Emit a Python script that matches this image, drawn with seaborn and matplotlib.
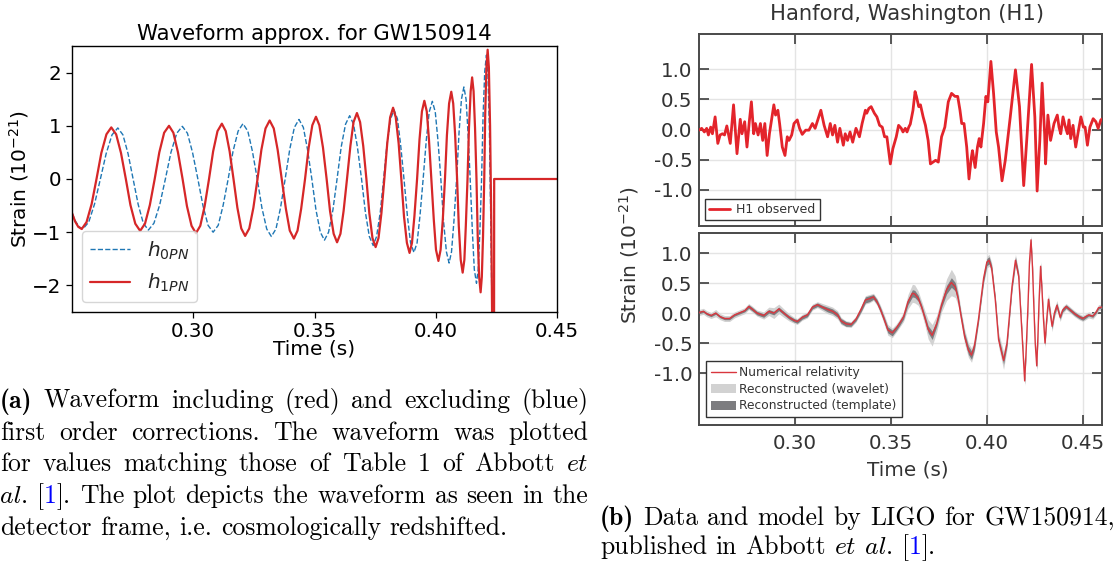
import matplotlib
matplotlib.use("Agg")
import matplotlib.pyplot as plt
import seaborn as sns
from matplotlib.lines import Line2D
from matplotlib.patches import Patch
from matplotlib.ticker import FixedLocator, FormatStrFormatter

# ---------------- Panel (a): waveform approximation ----------------
t_1pn = [0.2500, 0.2513, 0.2526, 0.2540,
         0.2560, 0.2581, 0.2601, 0.2621, 0.2642, 0.2662,
         0.2682, 0.2702, 0.2722, 0.2741, 0.2761, 0.2781,
         0.2801, 0.2821, 0.2841, 0.2860, 0.2880, 0.2900,
         0.2918, 0.2937, 0.2956, 0.2974, 0.2993, 0.3011,
         0.3029, 0.3047, 0.3065, 0.3082, 0.3100, 0.3118,
         0.3134, 0.3150, 0.3166, 0.3182, 0.3198, 0.3214,
         0.3231, 0.3248, 0.3265, 0.3281, 0.3298, 0.3315,
         0.3332, 0.3348, 0.3365, 0.3382, 0.3398, 0.3415,
         0.3430, 0.3445, 0.3461, 0.3476, 0.3491, 0.3506,
         0.3520, 0.3535, 0.3550, 0.3564, 0.3579, 0.3593,
         0.3607, 0.3620, 0.3634, 0.3648, 0.3661, 0.3675,
         0.3688, 0.3701, 0.3714, 0.3726, 0.3739, 0.3752,
         0.3764, 0.3776, 0.3788, 0.3800, 0.3812, 0.3824,
         0.3835, 0.3847, 0.3858, 0.3869, 0.3881, 0.3892,
         0.3902, 0.3912, 0.3923, 0.3933, 0.3943, 0.3953,
         0.3963, 0.3972, 0.3982, 0.3992, 0.4001, 0.4011,
         0.4020, 0.4029, 0.4038, 0.4046, 0.4055, 0.4064,
         0.4072, 0.4080, 0.4088, 0.4095, 0.4103, 0.4111,
         0.4118, 0.4124, 0.4131, 0.4137, 0.4144, 0.4150,
         0.4156, 0.4162, 0.4168, 0.4173, 0.4179, 0.4185,
         0.4190, 0.4195, 0.4200, 0.4204, 0.4209, 0.4214,
         0.4219, 0.4224, 0.4229, 0.4233, 0.4237, 0.4240, 0.4241, 0.4500]
h_1pn = [-0.64, -0.80, -0.90, -0.94,
         -0.81, -0.47, 0.00, 0.49, 0.84, 0.97,
         0.84, 0.49, 0.00, -0.49, -0.84, -0.975,
         -0.84, -0.49, 0.00, 0.50, 0.87, 1.00,
         0.87, 0.50, 0.00, -0.51, -0.88, -1.02,
         -0.88, -0.51, 0.00, 0.52, 0.90, 1.04,
         0.90, 0.52, 0.00, -0.54, -0.93, -1.07,
         -0.93, -0.54, 0.00, 0.55, 0.95, 1.10,
         0.95, 0.55, 0.00, -0.56, -0.97, -1.12,
         -0.97, -0.56, 0.00, 0.59, 1.01, 1.17,
         1.01, 0.59, 0.00, -0.60, -1.03, -1.19,
         -1.03, -0.60, 0.00, 0.62, 1.07, 1.24,
         1.07, 0.62, 0.00, -0.64, -1.11, -1.28,
         -1.11, -0.64, 0.00, 0.67, 1.16, 1.34,
         1.16, 0.67, 0.00, -0.70, -1.20, -1.39,
         -1.20, -0.70, 0.00, 0.74, 1.27, 1.47,
         1.27, 0.74, 0.00, -0.77, -1.33, -1.54,
         -1.33, -0.77, 0.00, 0.82, 1.42, 1.64,
         1.42, 0.82, 0.00, -0.88, -1.52, -1.76,
         -1.52, -0.88, 0.00, 0.96, 1.65, 1.91,
         1.65, 0.96, 0.00, -1.07, -1.84, -2.13,
         -1.84, -1.07, 0.00, 1.22, 2.10, 2.43,
         2.10, 1.00, -0.80, -2.80, -5.00, -5.00, 0.00, 0.00]

t_0pn = [0.2500, 0.2515, 0.2530, 0.2545,
         0.2569, 0.2593, 0.2617, 0.2641, 0.2665, 0.2689,
         0.2710, 0.2731, 0.2752, 0.2773, 0.2794, 0.2815,
         0.2838, 0.2862, 0.2885, 0.2908, 0.2932, 0.2955,
         0.2976, 0.2997, 0.3019, 0.3040, 0.3061, 0.3082,
         0.3103, 0.3123, 0.3144, 0.3164, 0.3185, 0.3205,
         0.3225, 0.3244, 0.3264, 0.3283, 0.3303, 0.3322,
         0.3341, 0.3360, 0.3379, 0.3398, 0.3417, 0.3436,
         0.3454, 0.3471, 0.3489, 0.3506, 0.3524, 0.3541,
         0.3558, 0.3576, 0.3593, 0.3610, 0.3628, 0.3645,
         0.3661, 0.3677, 0.3694, 0.3710, 0.3726, 0.3742,
         0.3756, 0.3771, 0.3785, 0.3799, 0.3814, 0.3828,
         0.3842, 0.3855, 0.3869, 0.3883, 0.3896, 0.3910,
         0.3923, 0.3935, 0.3948, 0.3961, 0.3973, 0.3986,
         0.3998, 0.4009, 0.4021, 0.4032, 0.4044, 0.4055,
         0.4065, 0.4075, 0.4086, 0.4096, 0.4106, 0.4116,
         0.4125, 0.4133, 0.4142, 0.4151, 0.4159, 0.4168,
         0.4175, 0.4182, 0.4189, 0.4195, 0.4202, 0.4209,
         0.4215, 0.4221, 0.4227, 0.4233, 0.4237, 0.4240, 0.4241, 0.4500]
h_0pn = [-0.64, -0.80, -0.90, -0.94,
         -0.81, -0.47, 0.00, 0.48, 0.83, 0.96,
         0.83, 0.48, 0.00, -0.48, -0.83, -0.96,
         -0.83, -0.48, 0.00, 0.50, 0.86, 0.99,
         0.86, 0.50, 0.00, -0.50, -0.87, -1.00,
         -0.87, -0.50, 0.00, 0.52, 0.90, 1.04,
         0.90, 0.52, 0.00, -0.54, -0.94, -1.08,
         -0.94, -0.54, 0.00, 0.56, 0.97, 1.12,
         0.97, 0.56, 0.00, -0.58, -1.00, -1.15,
         -1.00, -0.58, 0.00, 0.60, 1.03, 1.19,
         1.03, 0.60, 0.00, -0.63, -1.08, -1.25,
         -1.08, -0.63, 0.00, 0.65, 1.13, 1.30,
         1.13, 0.65, 0.00, -0.69, -1.20, -1.38,
         -1.20, -0.69, 0.00, 0.73, 1.26, 1.46,
         1.26, 0.73, 0.00, -0.79, -1.37, -1.58,
         -1.37, -0.79, 0.00, 0.87, 1.50, 1.73,
         1.50, 0.87, 0.00, -0.98, -1.70, -1.96,
         -1.70, -0.98, 0.00, 1.17, 2.02, 2.33,
         2.00, 1.00, -0.80, -2.80, -5.00, -5.00, 0.00, 0.00]

a_xticks = [0.30, 0.35, 0.40, 0.45]
a_yticks = [-2, -1, 0, 1, 2]
a_labels = ["$h_{0PN}$", "$h_{1PN}$"]

# ---------------- Panel (b): LIGO H1 data ----------------
t_obs = [0.2500, 0.2514, 0.2528, 0.2540, 0.2549, 0.2561, 0.2570, 0.2584, 0.2598, 0.2610,
         0.2622, 0.2633, 0.2645, 0.2663, 0.2680, 0.2698, 0.2715, 0.2724, 0.2738, 0.2750,
         0.2762, 0.2773, 0.2785, 0.2794, 0.2808, 0.2820, 0.2832, 0.2843, 0.2855, 0.2867,
         0.2890, 0.2899, 0.2911, 0.2920, 0.2934, 0.2948, 0.2960, 0.2969, 0.2983, 0.2995,
         0.3012, 0.3024, 0.3038, 0.3056, 0.3073, 0.3091, 0.3105, 0.3121, 0.3135, 0.3152,
         0.3170, 0.3184, 0.3196, 0.3208, 0.3222, 0.3234, 0.3252, 0.3262, 0.3274, 0.3287,
         0.3301, 0.3318, 0.3336, 0.3350, 0.3367, 0.3374, 0.3385, 0.3397, 0.3414, 0.3427,
         0.3441, 0.3455, 0.3467, 0.3479, 0.3497, 0.3510, 0.3528, 0.3540, 0.3554, 0.3563,
         0.3575, 0.3584, 0.3593, 0.3601, 0.3615, 0.3626, 0.3633, 0.3645, 0.3654, 0.3668,
         0.3680, 0.3694, 0.3706, 0.3720, 0.3733, 0.3747, 0.3764, 0.3781, 0.3799, 0.3816,
         0.3834, 0.3848, 0.3860, 0.3869, 0.3881, 0.3895, 0.3907, 0.3918, 0.3925, 0.3939,
         0.3951, 0.3960, 0.3969, 0.3983, 0.3995, 0.4005, 0.4021, 0.4035, 0.4049, 0.4061,
         0.4079, 0.4096, 0.4122, 0.4149, 0.4170, 0.4192, 0.4210, 0.4233, 0.4250, 0.4262,
         0.4276, 0.4288, 0.4301, 0.4306, 0.4318, 0.4332, 0.4350, 0.4367, 0.4376, 0.4385,
         0.4397, 0.4407, 0.4420, 0.4428, 0.4437, 0.4449, 0.4463, 0.4476, 0.4490, 0.4503,
         0.4512, 0.4524, 0.4537, 0.4554, 0.4568, 0.4580, 0.4594, 0.4603]
h_obs = [-0.01, 0.02, -0.04, 0.02, -0.09, 0.04, -0.07, 0.21, -0.23, -0.09,
         -0.07, -0.09, 0.06, -0.23, 0.41, -0.40, 0.17, -0.07, 0.13, -0.29,
         0.13, 0.46, -0.07, 0.10, -0.09, 0.10, -0.18, 0.10, -0.43, -0.07,
         0.41, 0.24, 0.32, 0.10, -0.29, -0.43, -0.12, -0.18, -0.09, 0.10,
         0.16, 0.02, -0.08, -0.01, -0.01, 0.10, 0.02, 0.18, 0.32, 0.07,
         -0.12, 0.10, -0.09, 0.07, -0.21, 0.02, -0.26, -0.07, -0.18, -0.04,
         -0.21, 0.02, -0.12, 0.10, 0.32, 0.27, 0.35, 0.38, 0.27, 0.21,
         0.07, 0.04, -0.12, -0.12, -0.57, -0.32, -0.12, 0.07, 0.02, -0.04,
         0.02, -0.04, 0.04, 0.09, 0.32, 0.63, 0.55, 0.38, 0.41, 0.21,
         0.07, -0.18, -0.57, -0.54, -0.51, -0.54, -0.12, 0.04, 0.46, 0.60,
         0.55, 0.55, 0.32, 0.10, 0.10, -0.29, -0.82, -0.49, -0.35, -0.63,
         -0.29, -0.15, -0.29, 0.10, 0.55, 0.46, 1.13, 0.60, -0.04, -0.29,
         -0.85, -0.51, 0.21, 0.99, 0.38, -0.93, -0.07, 1.08, 0.21, -1.02,
         -0.18, 0.77, -0.07, -0.57, 0.24, -0.18, 0.10, 0.24, 0.04, -0.07,
         0.21, 0.07, -0.07, 0.16, -0.15, 0.07, -0.29, -0.04, 0.21, 0.04,
         0.04, -0.26, 0.04, 0.18, 0.13, 0.02, 0.16, 0.18]

t_nr = [0.2500, 0.2523, 0.2540, 0.2563, 0.2587, 0.2610, 0.2633, 0.2659,
        0.2685, 0.2715, 0.2738, 0.2759, 0.2776, 0.2802, 0.2837, 0.2864,
        0.2890, 0.2916, 0.2942, 0.2969, 0.2995, 0.3012, 0.3038, 0.3065,
        0.3091, 0.3117, 0.3143, 0.3170, 0.3196, 0.3222, 0.3240, 0.3266,
        0.3292, 0.3318, 0.3344, 0.3367, 0.3388, 0.3409, 0.3427, 0.3444,
        0.3462, 0.3484, 0.3507, 0.3528, 0.3545, 0.3566, 0.3589, 0.3612,
        0.3624, 0.3642, 0.3659, 0.3677, 0.3694, 0.3715, 0.3738, 0.3764,
        0.3790, 0.3815, 0.3835, 0.3850, 0.3866, 0.3884, 0.3904, 0.3920,
        0.3935, 0.3956, 0.3970, 0.3983, 0.4000, 0.4012, 0.4025, 0.4044,
        0.4061, 0.4087, 0.4105, 0.4131, 0.4149, 0.4166, 0.4184, 0.4197,
        0.4205, 0.4214, 0.4222, 0.4230, 0.4238, 0.4245, 0.4252, 0.4260,
        0.4266, 0.4272, 0.4280, 0.4287, 0.4295, 0.4303, 0.4312, 0.4321,
        0.4330, 0.4340, 0.4352, 0.4365, 0.4382, 0.4395, 0.4413, 0.4435,
        0.4457, 0.4480, 0.4500, 0.4530, 0.4552, 0.4570, 0.4582, 0.4600]
h_nr = [0.01, 0.03, -0.01, -0.04, 0.00, -0.06, -0.09, -0.09,
        -0.03, 0.01, 0.04, 0.11, 0.07, 0.00, -0.04, 0.03,
        0.00, 0.07, 0.00, -0.07, -0.12, -0.14, -0.07, -0.03,
        0.10, 0.14, 0.10, 0.06, 0.03, -0.03, -0.13, -0.18,
        -0.19, -0.10, 0.06, 0.22, 0.24, 0.27, 0.19, 0.07,
        -0.08, -0.28, -0.33, -0.25, -0.17, -0.06, 0.19, 0.33,
        0.32, 0.25, 0.11, -0.08, -0.27, -0.37, -0.18, 0.14,
        0.39, 0.51, 0.44, 0.25, -0.06, -0.39, -0.62, -0.70,
        -0.55, -0.11, 0.25, 0.58, 0.85, 0.88, 0.75, 0.22,
        -0.44, -0.79, -0.50, 0.44, 0.88, 0.61, -0.39, -1.13,
        -0.60, 0.10, 0.85, 1.22, 0.75, 0.10, -0.50, -0.88,
        -0.40, 0.20, 0.78, 0.40, -0.10, -0.50, -0.10, 0.23,
        0.00, -0.22, 0.00, 0.13, -0.07, 0.05, 0.11, 0.05,
        -0.01, -0.06, -0.09, -0.03, -0.05, 0.02, 0.09, 0.10]
# half-widths of the reconstructed bands around the numerical-relativity curve
wavelet_hw = [0.05, 0.05, 0.05, 0.05, 0.06, 0.05, 0.05, 0.05,
              0.05, 0.05, 0.05, 0.05, 0.05, 0.05, 0.06, 0.07,
              0.09, 0.08, 0.07, 0.06, 0.05, 0.05, 0.05, 0.05,
              0.05, 0.05, 0.06, 0.07, 0.07, 0.07, 0.06, 0.05,
              0.05, 0.05, 0.06, 0.07, 0.07, 0.06, 0.06, 0.07,
              0.08, 0.09, 0.08, 0.07, 0.07, 0.08, 0.12, 0.15,
              0.15, 0.12, 0.10, 0.12, 0.16, 0.18, 0.14, 0.12,
              0.18, 0.22, 0.18, 0.12, 0.10, 0.12, 0.12, 0.12,
              0.10, 0.08, 0.09, 0.10, 0.10, 0.10, 0.09, 0.08,
              0.12, 0.15, 0.10, 0.08, 0.10, 0.08, 0.08, 0.08,
              0.07, 0.07, 0.07, 0.08, 0.07, 0.07, 0.07, 0.09,
              0.08, 0.08, 0.08, 0.08, 0.08, 0.08, 0.08, 0.09,
              0.09, 0.09, 0.08, 0.08, 0.07, 0.06, 0.05, 0.05,
              0.05, 0.05, 0.05, 0.05, 0.05, 0.05, 0.05, 0.05]
template_hw = [0.02, 0.02, 0.02, 0.02, 0.02, 0.02, 0.02, 0.02,
               0.02, 0.02, 0.02, 0.03, 0.03, 0.03, 0.03, 0.03,
               0.03, 0.03, 0.03, 0.03, 0.03, 0.03, 0.03, 0.03,
               0.03, 0.03, 0.03, 0.04, 0.04, 0.04, 0.04, 0.04,
               0.03, 0.03, 0.04, 0.05, 0.05, 0.04, 0.04, 0.04,
               0.04, 0.05, 0.05, 0.04, 0.04, 0.04, 0.05, 0.06,
               0.06, 0.05, 0.04, 0.05, 0.06, 0.07, 0.05, 0.05,
               0.07, 0.08, 0.07, 0.05, 0.05, 0.06, 0.07, 0.07,
               0.06, 0.05, 0.05, 0.06, 0.06, 0.06, 0.05, 0.05,
               0.05, 0.06, 0.05, 0.05, 0.06, 0.05, 0.05, 0.05,
               0.04, 0.04, 0.04, 0.05, 0.04, 0.04, 0.04, 0.05,
               0.04, 0.04, 0.05, 0.04, 0.04, 0.04, 0.04, 0.04,
               0.04, 0.04, 0.04, 0.04, 0.03, 0.03, 0.03, 0.03,
               0.03, 0.03, 0.03, 0.02, 0.02, 0.02, 0.02, 0.02]

b_xticks = [0.30, 0.35, 0.40, 0.45]
b_yticks = [-1.0, -0.5, 0.0, 0.5, 1.0]
b_labels_top = ["H1 observed"]
b_labels_bottom = ["Numerical relativity", "Reconstructed (wavelet)", "Reconstructed (template)"]

# ---------------- Captions ----------------
caption_a = [
    [[("(a)", "b")], [("Waveform", "r")], [("including", "r")], [("(red)", "r")], [("and", "r")],
     [("excluding", "r")], [("(blue)", "r")]],
    [[("first", "r")], [("order", "r")], [("corrections.", "r")], [("The", "r")], [("waveform", "r")],
     [("was", "r")], [("plotted", "r")]],
    [[("for", "r")], [("values", "r")], [("matching", "r")], [("those", "r")], [("of", "r")],
     [("Table", "r")], [("1", "r")], [("of", "r")], [("Abbott", "r")], [("et", "i")]],
    [[("al", "i"), (".", "r")], [("[", "r"), ("1", "k"), ("].", "r")], [("The", "r")], [("plot", "r")],
     [("depicts", "r")], [("the", "r")], [("waveform", "r")], [("as", "r")], [("seen", "r")], [("in", "r")],
     [("the", "r")]],
    [[("detector", "r")], [("frame,", "r")], [("i.e.", "r")], [("cosmologically", "r")], [("redshifted.", "r")]],
]
caption_b = [
    [[("(b)", "b")], [("Data", "r")], [("and", "r")], [("model", "r")], [("by", "r")], [("LIGO", "r")],
     [("for", "r")], [("GW150914,", "r")]],
    [[("published", "r")], [("in", "r")], [("Abbott", "r")], [("et", "i")], [("al", "i"), (".", "r")],
     [("[", "r"), ("1", "k"), ("].", "r")]],
]

# ---------------- Figure ----------------
sns.set_theme(style="ticks")
plt.rcParams["font.family"] = ["DejaVu Sans"]
W_PX, H_PX = 1117, 565
fig = plt.figure(figsize=(W_PX / 100, H_PX / 100), dpi=100)
fig.patch.set_facecolor("white")

def frac(x0, y0, x1, y1):
    return [x0 / W_PX, 1 - y1 / H_PX, (x1 - x0) / W_PX, (y1 - y0) / H_PX]

# ----- Panel (a)
ax_a = fig.add_axes(frac(72, 46, 557, 312))
blue = "#1f77b4"
red = "#d62728"
sns.lineplot(x=t_0pn, y=h_0pn, ax=ax_a, color=blue, lw=1.0, linestyle="--",
             estimator=None, sort=False)
sns.lineplot(x=t_1pn, y=h_1pn, ax=ax_a, color=red, lw=1.6, estimator=None, sort=False)
ax_a.set_xlim(0.25, 0.45)
ax_a.set_ylim(-2.5, 2.5)
ax_a.set_xticks(a_xticks)
ax_a.xaxis.set_major_formatter(FormatStrFormatter("%.2f"))
ax_a.set_yticks(a_yticks)
for s in ax_a.spines.values():
    s.set_visible(True)
    s.set_color("black")
    s.set_linewidth(1.0)
ax_a.tick_params(direction="out", length=4.5, width=0.9, color="black",
                 labelsize=14.3, labelcolor="black", pad=3)
ax_a.set_title("Waveform approx. for GW150914", fontsize=15.3, pad=4.3, color="black")
ax_a.set_xlabel("Time (s)", fontsize=14.5, color="black")
ax_a.xaxis.set_label_coords(0.5, -0.105)
ax_a.set_ylabel("Strain (10$^{-21}$)", fontsize=14.5, color="black")
ax_a.yaxis.set_label_coords(-0.085, 0.5)
ax_a.grid(False)
leg_a = ax_a.legend(handles=[Line2D([], [], color=blue, lw=1.0, ls="--"),
                             Line2D([], [], color=red, lw=1.6)],
                    labels=a_labels, loc="lower left", fontsize=14.5, frameon=True,
                    fancybox=True, edgecolor="0.8", framealpha=0.8)

# ----- Panel (b)
gray_txt = "#333333"
spine_c = "#4a4a4a"
obs_red = "#e3242b"
nr_red = "#d9363e"
ax_t = fig.add_axes(frac(699, 34.3, 1102, 226))
ax_b = fig.add_axes(frac(699, 232.7, 1102, 424.7))

ax_b.fill_between(t_nr, [v - w for v, w in zip(h_nr, wavelet_hw)],
                  [v + w for v, w in zip(h_nr, wavelet_hw)], color="#d2d2d2", lw=0, zorder=2)
ax_b.fill_between(t_nr, [v - w for v, w in zip(h_nr, template_hw)],
                  [v + w for v, w in zip(h_nr, template_hw)], color="#7d7d80", lw=0, zorder=3)
sns.lineplot(x=t_nr, y=h_nr, ax=ax_b, color=nr_red, lw=1.0, estimator=None, sort=False, zorder=4)
sns.lineplot(x=t_obs, y=h_obs, ax=ax_t, color=obs_red, lw=2.0, estimator=None, sort=False, zorder=4)

for ax in (ax_t, ax_b):
    ax.set_facecolor("white")
    ax.set_xlim(0.25, 0.46)
    ax.xaxis.set_major_locator(FixedLocator(b_xticks))
    ax.xaxis.set_major_formatter(FormatStrFormatter("%.2f"))
    ax.yaxis.set_major_locator(FixedLocator(b_yticks))
    ax.yaxis.set_major_formatter(FormatStrFormatter("%.1f"))
    ax.grid(True, color="#e4e4e4", lw=1.0, zorder=0)
    ax.set_axisbelow(True)
    for s in ax.spines.values():
        s.set_visible(True)
        s.set_color(spine_c)
        s.set_linewidth(1.4)
    ax.tick_params(direction="in", length=7, width=1.3, color=spine_c, top=True, right=True,
                   labelsize=14.3, labelcolor=gray_txt)
    ax.tick_params(axis="y", pad=4.5)
    ax.tick_params(axis="x", pad=7)
    ax.set_xlabel("")
    ax.set_ylabel("")
ax_t.set_ylim(-1.6, 1.58)
ax_b.set_ylim(-1.86, 1.34)
ax_t.tick_params(labelbottom=False)
ax_b.set_xlabel("Time (s)", fontsize=14.4, color=gray_txt)
ax_b.xaxis.set_label_coords(0.519, -0.184)

leg_t = ax_t.legend(handles=[Line2D([], [], color=obs_red, lw=2.0)], labels=b_labels_top,
                    loc="lower left", fontsize=9, frameon=True, fancybox=False,
                    edgecolor="#333333", framealpha=1, handlelength=1.7, borderpad=0.3,
                    handletextpad=0.5, borderaxespad=0.5)
leg_t.get_frame().set_linewidth(1.0)
for tx in leg_t.get_texts():
    tx.set_color(gray_txt)
leg_b = ax_b.legend(handles=[Line2D([], [], color=nr_red, lw=1.0),
                             Patch(facecolor="#d2d2d2", edgecolor="none"),
                             Patch(facecolor="#7d7d80", edgecolor="none")],
                    labels=b_labels_bottom, loc="lower left", fontsize=8.8, frameon=True,
                    fancybox=False, edgecolor="#333333", framealpha=1, handlelength=2.0,
                    handleheight=0.8, labelspacing=0.3, handletextpad=0.3, borderpad=0.4,
                    borderaxespad=0.6)
leg_b.get_frame().set_linewidth(1.0)
for tx in leg_b.get_texts():
    tx.set_color(gray_txt)

fig.text(907 / W_PX, 1 - 14 / H_PX, "Hanford, Washington (H1)", ha="center", va="center",
         fontsize=15.2, color=gray_txt)
fig.text(629 / W_PX, 1 - 255 / H_PX, "Strain (10$^{-21}$)", rotation=90, ha="center",
         va="center", fontsize=14.5, color=gray_txt)

# ----- Captions (Computer Modern fonts shipped with matplotlib)
STY = {"r": ("cmr10", "black"), "b": ("cmb10", "black"),
       "i": ("cmmi10", "black"), "k": ("cmr10", "#0000ff")}
renderer = fig.canvas.get_renderer()

def caption_line(words, x0, x1, base, justify, fs=18.5):
    groups, widths = [], []
    for word in words:
        items, tot = [], 0.0
        for s, st in word:
            fam, col = STY[st]
            t = fig.text(0, 0, s, family=fam, color=col, fontsize=fs, va="baseline", ha="left")
            w = t.get_window_extent(renderer).width
            items.append((t, w))
            tot += w
        groups.append(items)
        widths.append(tot)
    space = 0.333 * fs * 100 / 72
    gap = (x1 - x0 - sum(widths)) / (len(words) - 1) if (justify and len(words) > 1) else space
    x = x0
    for items in groups:
        for t, w in items:
            t.set_position((x / W_PX, 1 - base / H_PX))
            x += w
        x += gap

a_bases = [408, 440, 471, 503, 535]
for i, line in enumerate(caption_a):
    caption_line(line, 0, 588, a_bases[i], justify=(i < len(caption_a) - 1))
b_bases = [525, 554]
for i, line in enumerate(caption_b):
    caption_line(line, 600, 1115, b_bases[i], justify=(i < len(caption_b) - 1))

fig.savefig("out.png", dpi=100, facecolor="white")
